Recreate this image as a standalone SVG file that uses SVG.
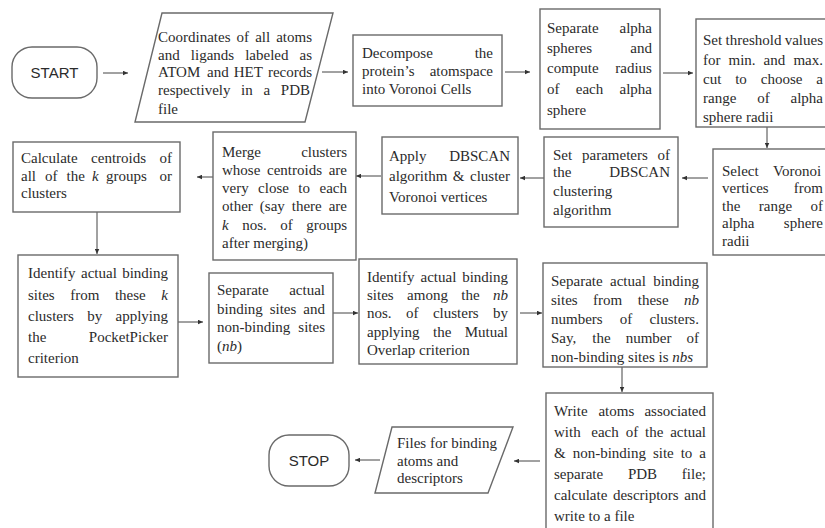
<svg xmlns="http://www.w3.org/2000/svg" width="825" height="528" viewBox="0 0 825 528">
<style>
.box{fill:#fff;stroke:#6a6a6a;stroke-width:1.4}
.t{font-family:"Liberation Serif","Times New Roman",serif;font-size:15px;fill:#2b2b2b}
.i{font-style:italic}
.s{font-family:"Liberation Sans",Arial,sans-serif;font-size:15px;fill:#2b2b2b;text-anchor:middle}
.c{fill:none;stroke:#444;stroke-width:1}
</style>
<defs>
<marker id="ah" viewBox="0 0 10 10" refX="10" refY="5" markerWidth="6" markerHeight="5" markerUnits="userSpaceOnUse" orient="auto">
<path d="M0,0.5 L10,5 L0,9.5 z" fill="#333"/>
</marker>
</defs>
<rect width="825" height="528" fill="#fff"/>
<g id="connectors">
<line class="c" x1="103" y1="73" x2="128" y2="73" marker-end="url(#ah)"/>
<line class="c" x1="322" y1="72" x2="348" y2="72" marker-end="url(#ah)"/>
<line class="c" x1="505" y1="72" x2="530" y2="72" marker-end="url(#ah)"/>
<line class="c" x1="663" y1="73" x2="693" y2="73" marker-end="url(#ah)"/>
<line class="c" x1="767" y1="127" x2="767" y2="148" marker-end="url(#ah)"/>
<line class="c" x1="708" y1="178" x2="682" y2="178" marker-end="url(#ah)"/>
<line class="c" x1="544" y1="178" x2="520" y2="178" marker-end="url(#ah)"/>
<line class="c" x1="381" y1="176" x2="356" y2="176" marker-end="url(#ah)"/>
<line class="c" x1="213" y1="177" x2="197" y2="177" marker-end="url(#ah)"/>
<line class="c" x1="97" y1="212" x2="97" y2="254" marker-end="url(#ah)"/>
<line class="c" x1="178" y1="322" x2="203" y2="322" marker-end="url(#ah)"/>
<line class="c" x1="333" y1="313" x2="358" y2="313" marker-end="url(#ah)"/>
<line class="c" x1="520" y1="313" x2="542" y2="313" marker-end="url(#ah)"/>
<line class="c" x1="622" y1="367" x2="622" y2="392" marker-end="url(#ah)"/>
<line class="c" x1="540" y1="461" x2="514" y2="461" marker-end="url(#ah)"/>
<line class="c" x1="380" y1="460" x2="355" y2="460" marker-end="url(#ah)"/>
</g>
<g id="start">
<rect class="box" x="12" y="47" width="85" height="51" rx="20"/>
<text class="s" x="54.5" y="78">START</text>
</g>
<g id="input">
<polygon class="box" points="162,13 333,13 305,122 135,122"/>
<text class="t" y="42.2"><tspan x="158">Coordinates</tspan><tspan x="236.6">of</tspan><tspan x="255.2">all</tspan><tspan x="276.2">atoms</tspan></text>
<text class="t" y="59.5"><tspan x="158">and</tspan><tspan x="190.8">ligands</tspan><tspan x="245.2">labeled</tspan><tspan x="299.5">as</tspan></text>
<text class="t" y="77.2"><tspan x="158">ATOM</tspan><tspan x="207.1">and</tspan><tspan x="233.7">HET</tspan><tspan x="267.9">records</tspan></text>
<text class="t" y="95.2"><tspan x="158">respectively</tspan><tspan x="241.1">in</tspan><tspan x="263.4">a</tspan><tspan x="280.8">PDB</tspan></text>
<text class="t" x="158" y="113.5">file</text>
</g>
<g id="decompose">
<rect class="box" x="353" y="35" width="149" height="71"/>
<text class="t" y="57.5"><tspan x="362">Decompose</tspan><tspan x="474.7">the</tspan></text>
<text class="t" y="75.5"><tspan x="362">protein’s</tspan><tspan x="429.7">atomspace</tspan></text>
<text class="t" x="362" y="93.5">into Voronoi Cells</text>
</g>
<g id="separate-alpha">
<rect class="box" x="540" y="9" width="120" height="120"/>
<text class="t" y="32.8"><tspan x="547">Separate</tspan><tspan x="619.5">alpha</tspan></text>
<text class="t" y="52.8"><tspan x="547">spheres</tspan><tspan x="630.3">and</tspan></text>
<text class="t" y="72.8"><tspan x="547">compute</tspan><tspan x="615.3">radius</tspan></text>
<text class="t" y="93.8"><tspan x="547">of</tspan><tspan x="575.8">each</tspan><tspan x="619.5">alpha</tspan></text>
<text class="t" x="547" y="114.5">sphere</text>
</g>
<g id="threshold">
<rect class="box" x="696" y="19" width="140" height="108"/>
<text class="t" y="45"><tspan x="703">Set</tspan><tspan x="725.6">threshold</tspan><tspan x="784.7">values</tspan></text>
<text class="t" y="64.5"><tspan x="703">for</tspan><tspan x="728.5">min.</tspan><tspan x="763.6">and</tspan><tspan x="793.4">max.</tspan></text>
<text class="t" y="84"><tspan x="703">cut</tspan><tspan x="735.2">to</tspan><tspan x="760.8">choose</tspan><tspan x="816.3">a</tspan></text>
<text class="t" y="103"><tspan x="703">range</tspan><tspan x="757.2">of</tspan><tspan x="790.5">alpha</tspan></text>
<text class="t" x="703" y="121.5">sphere radii</text>
</g>
<g id="select-voronoi">
<rect class="box" x="713" y="149" width="130" height="106"/>
<text class="t" y="176"><tspan x="722">Select</tspan><tspan x="773">Voronoi</tspan></text>
<text class="t" y="193"><tspan x="722">vertices</tspan><tspan x="793.8">from</tspan></text>
<text class="t" y="210.5"><tspan x="722">the</tspan><tspan x="758.8">range</tspan><tspan x="810.5">of</tspan></text>
<text class="t" y="228"><tspan x="722">alpha</tspan><tspan x="783.8">sphere</tspan></text>
<text class="t" x="722" y="245.5">radii</text>
</g>
<g id="set-parameters">
<rect class="box" x="544" y="137" width="134" height="90"/>
<text class="t" y="159.5"><tspan x="553">Set</tspan><tspan x="582">parameters</tspan><tspan x="657.5">of</tspan></text>
<text class="t" y="177.2"><tspan x="553">the</tspan><tspan x="609.2">DBSCAN</tspan></text>
<text class="t" x="553" y="196.2">clustering</text>
<text class="t" x="553" y="214.5">algorithm</text>
</g>
<g id="apply-dbscan">
<rect class="box" x="382" y="137" width="136" height="77"/>
<text class="t" y="161.2"><tspan x="389">Apply</tspan><tspan x="449.2">DBSCAN</tspan></text>
<text class="t" y="181.2"><tspan x="389">algorithm</tspan><tspan x="452.8">&amp;</tspan><tspan x="470">cluster</tspan></text>
<text class="t" x="389" y="201.8">Voronoi vertices</text>
</g>
<g id="merge">
<rect class="box" x="213" y="132" width="143" height="128"/>
<text class="t" y="156.5"><tspan x="222">Merge</tspan><tspan x="301.2">clusters</tspan></text>
<text class="t" y="174.8"><tspan x="222">whose</tspan><tspan x="267">centroids</tspan><tspan x="328.7">are</tspan></text>
<text class="t" y="193.1"><tspan x="222">very</tspan><tspan x="258.1">close</tspan><tspan x="298.3">to</tspan><tspan x="319.5">each</tspan></text>
<text class="t" y="211.4"><tspan x="222">other</tspan><tspan x="259.8">(say</tspan><tspan x="291.8">there</tspan><tspan x="328.7">are</tspan></text>
<text class="t" y="229.7"><tspan x="222" class="i">k</tspan><tspan x="242.2">nos.</tspan><tspan x="280.2">of</tspan><tspan x="306.2">groups</tspan></text>
<text class="t" x="222" y="248">after merging)</text>
</g>
<g id="centroids">
<rect class="box" x="13" y="142" width="167" height="70"/>
<text class="t" y="163"><tspan x="21">Calculate</tspan><tspan x="91.1">centroids</tspan><tspan x="159.5">of</tspan></text>
<text class="t" y="181"><tspan x="21">all</tspan><tspan x="45">of</tspan><tspan x="66.6">the</tspan><tspan x="92" class="i">k</tspan><tspan x="106">groups</tspan><tspan x="159.5">or</tspan></text>
<text class="t" x="21" y="198">clusters</text>
</g>
<g id="pocketpicker">
<rect class="box" x="18" y="255" width="160" height="122"/>
<text class="t" y="277.5"><tspan x="28">Identify</tspan><tspan x="81">actual</tspan><tspan x="122.2">binding</tspan></text>
<text class="t" y="299.5"><tspan x="28">sites</tspan><tspan x="70.2">from</tspan><tspan x="114.9">these</tspan><tspan x="161.3" class="i">k</tspan></text>
<text class="t" y="320.5"><tspan x="28">clusters</tspan><tspan x="87.2">by</tspan><tspan x="115.5">applying</tspan></text>
<text class="t" y="341.5"><tspan x="28">the</tspan><tspan x="88.8">PocketPicker</tspan></text>
<text class="t" x="28" y="362.5">criterion</text>
</g>
<g id="separate-nb">
<rect class="box" x="209" y="273" width="124" height="90"/>
<text class="t" y="294.5"><tspan x="217">Separate</tspan><tspan x="289.2">actual</tspan></text>
<text class="t" y="313.5"><tspan x="217">binding</tspan><tspan x="269.7">sites</tspan><tspan x="303.3">and</tspan></text>
<text class="t" y="332"><tspan x="217">non-binding</tspan><tspan x="298.3">sites</tspan></text>
<text class="t" x="217" y="351">(<tspan class="i">nb</tspan>)</text>
</g>
<g id="mutual-overlap">
<rect class="box" x="359" y="259" width="158" height="105"/>
<text class="t" y="281.5"><tspan x="367">Identify</tspan><tspan x="420.5">actual</tspan><tspan x="462.2">binding</tspan></text>
<text class="t" y="299.5"><tspan x="367">sites</tspan><tspan x="407.1">among</tspan><tspan x="461.3">the</tspan><tspan x="493" class="i">nb</tspan></text>
<text class="t" y="317.5"><tspan x="367">nos.</tspan><tspan x="406">of</tspan><tspan x="432.9">clusters</tspan><tspan x="493">by</tspan></text>
<text class="t" y="336.5"><tspan x="367">applying</tspan><tspan x="433">the</tspan><tspan x="464.7">Mutual</tspan></text>
<text class="t" x="367" y="354.5">Overlap criterion</text>
</g>
<g id="separate-nbs">
<rect class="box" x="543" y="263" width="164" height="104"/>
<text class="t" y="285.5"><tspan x="551">Separate</tspan><tspan x="610">actual</tspan><tspan x="653.2">binding</tspan></text>
<text class="t" y="304.5"><tspan x="551">sites</tspan><tspan x="593.1">from</tspan><tspan x="637.8">these</tspan><tspan x="684" class="i">nb</tspan></text>
<text class="t" y="323.5"><tspan x="551">numbers</tspan><tspan x="619.8">of</tspan><tspan x="649.4">clusters.</tspan></text>
<text class="t" y="342.5"><tspan x="551">Say,</tspan><tspan x="592.3">the</tspan><tspan x="625.7">number</tspan><tspan x="686.5">of</tspan></text>
<text class="t" x="551" y="361.5">non-binding sites is <tspan class="i">nbs</tspan></text>
</g>
<g id="write-atoms">
<rect class="box" x="546" y="393" width="167" height="150"/>
<text class="t" y="415.5"><tspan x="554">Write</tspan><tspan x="598.4">atoms</tspan><tspan x="644.4">associated</tspan></text>
<text class="t" y="436.5"><tspan x="554">with</tspan><tspan x="591.3">each</tspan><tspan x="625.7">of</tspan><tspan x="645.1">the</tspan><tspan x="670.2">actual</tspan></text>
<text class="t" y="457.5"><tspan x="554">&amp;</tspan><tspan x="572.7">non-binding</tspan><tspan x="652.9">site</tspan><tspan x="680.7">to</tspan><tspan x="699.3">a</tspan></text>
<text class="t" y="478.5"><tspan x="554">separate</tspan><tspan x="627.9">PDB</tspan><tspan x="681.8">file;</tspan></text>
<text class="t" y="499.5"><tspan x="554">calculate</tspan><tspan x="612.9">descriptors</tspan><tspan x="684.3">and</tspan></text>
<text class="t" x="554" y="520.5">write to a file</text>
</g>
<g id="output-files">
<polygon class="box" points="392,427 513,427 488,493 375,493"/>
<text class="t" x="397" y="448">Files for binding</text>
<text class="t" x="397" y="466">atoms and</text>
<text class="t" x="397" y="483">descriptors</text>
</g>
<g id="stop">
<rect class="box" x="269" y="435" width="80" height="51" rx="20"/>
<text class="s" x="309" y="466">STOP</text>
</g>
</svg>
